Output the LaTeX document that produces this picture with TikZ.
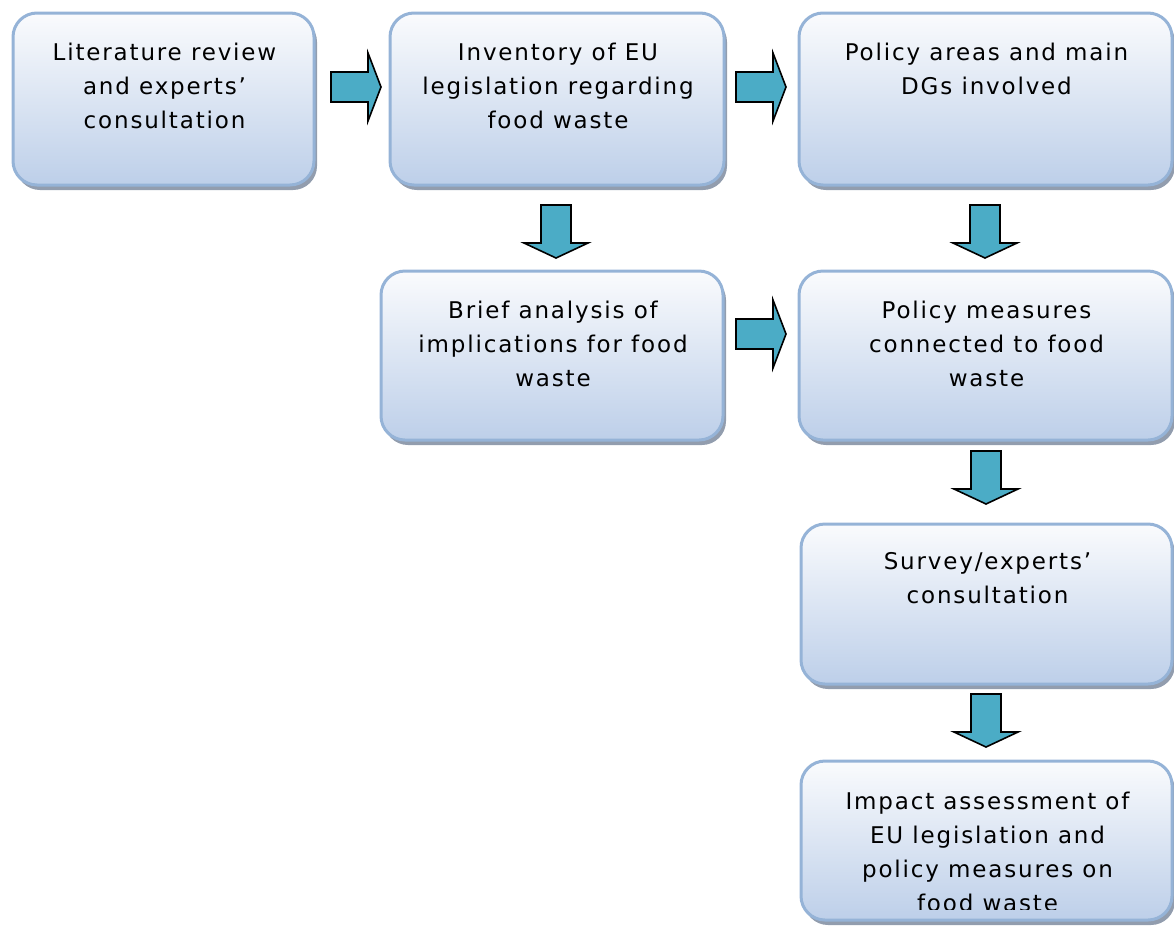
\documentclass[tikz,border=0pt]{standalone}
\usepackage{fontspec}
\setmainfont{DejaVu Sans}[LetterSpace=8]
\usetikzlibrary{shadows,calc}
\definecolor{boxborder}{RGB}{149,179,215}
\definecolor{boxtop}{RGB}{250,251,253}
\definecolor{boxbottom}{RGB}{189,207,233}
\definecolor{shadowgray}{RGB}{146,157,174}
\definecolor{arrowfill}{RGB}{75,172,198}
\tikzset{
  stepbox/.style={draw=boxborder, line width=3pt, rounded corners=24pt,
    top color=boxtop, bottom color=boxbottom, inner sep=0pt, outer sep=0pt,
    drop shadow={shadow xshift=3pt, shadow yshift=-5pt, fill=shadowgray, opacity=1}},
  boxtext/.style={anchor=north, inner sep=0pt, align=center,
    font=\fontsize{23}{34}\selectfont},
  blockarrow/.style={draw=black, line width=1.6pt, fill=arrowfill, line join=miter},
  rarrow/.pic={\path[blockarrow] (0,-15) -- (37,-15) -- (37,-34) -- (50,0) -- (37,34) -- (37,15) -- (0,15) -- cycle;},
  darrow/.pic={\path[blockarrow] (-15,0) -- (15,0) -- (15,38) -- (32,38) -- (0,53) -- (-32,38) -- (-15,38) -- cycle;}
}
\begin{document}
\begin{tikzpicture}[x=1pt,y=-1pt]
\useasboundingbox (0,0) rectangle (1174,930);
% boxes
\node[stepbox, minimum width=301pt, minimum height=172pt] (b1) at (163.5,99) {};
\node[stepbox, minimum width=334pt, minimum height=172pt] (b2) at (557,99) {};
\node[stepbox, minimum width=373pt, minimum height=172pt] (b3) at (985.5,99) {};
\node[stepbox, minimum width=342pt, minimum height=169pt] (b4) at (552,355.5) {};
\node[stepbox, minimum width=373pt, minimum height=169pt] (b5) at (985.5,355.5) {};
\node[stepbox, minimum width=371pt, minimum height=160pt] (b6) at (986.5,604) {};
\node[stepbox, minimum width=371pt, minimum height=159pt] (b7) at (986.5,840.5) {};
% texts
\node[boxtext] (t1) at (164.5,42.5) {Literature review\\and experts’\\consultation};
\node[boxtext] (t2) at (558,42.5) {Inventory of EU\\legislation regarding\\food waste};
\node[boxtext] (t3) at (986.5,42.5) {Policy areas and main\\DGs involved};
\node[boxtext] (t4) at (553,300.5) {Brief analysis of\\implications for food\\waste};
\node[boxtext] (t5) at (986.5,300.5) {Policy measures\\connected to food\\waste};
\node[boxtext] (t6) at (987.5,552.5) {Survey/experts’\\consultation};
\begin{scope}
\clip (801,761) rectangle (1172,909);
\node[boxtext] (t7) at (987.5,791.5) {Impact assessment of\\EU legislation and\\policy measures on\\food waste};
\end{scope}
% arrows
\pic (a1) at (331,87) {rarrow};
\pic (a2) at (736,87) {rarrow};
\pic (a3) at (736,334) {rarrow};
\pic (d1) at (556,205) {darrow};
\pic (d2) at (985,205) {darrow};
\pic (d3) at (986,451) {darrow};
\pic (d4) at (986,694) {darrow};
\end{tikzpicture}
\end{document}
